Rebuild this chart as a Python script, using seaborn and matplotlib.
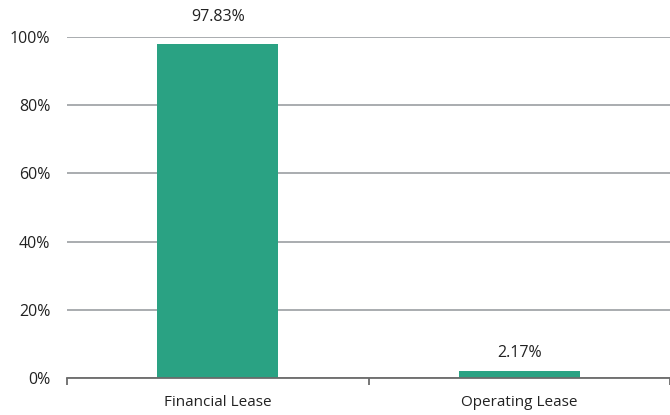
import matplotlib
matplotlib.use("Agg")
import matplotlib.pyplot as plt
import seaborn as sns
import pandas as pd

categories = ["Financial Lease", "Operating Lease"]
shares = [97.83, 2.17]
y_ticks = [0, 20, 40, 60, 80, 100]
y_labels = ["0%", "20%", "40%", "60%", "80%", "100%"]

sns.set_theme(style="white")
plt.rcParams["font.family"] = ["Open Sans", "DejaVu Sans"]

df = pd.DataFrame({"type": categories, "share": shares})

fig = plt.figure(figsize=(6.7, 4.15), dpi=100)
ax = fig.add_axes([0.1, 1 - 378 / 415, 0.9, (378 - 37) / 415])

sns.barplot(data=df, x="type", y="share", color="#2aa283", width=0.4,
            saturation=1, linewidth=0, ax=ax, zorder=3)

ax.set_ylim(0, 100)
ax.set_xlim(-0.5, 1.49)
ax.set_yticks(y_ticks)
ax.set_yticklabels(y_labels)
ax.grid(axis="y", color="#a3a6a9", linewidth=1.3, zorder=0)
ax.set_axisbelow(True)
ax.set_xlabel("")
ax.set_ylabel("")

for side in ["top", "right", "left"]:
    ax.spines[side].set_visible(False)
ax.spines["bottom"].set_color("#6b6b6b")
ax.spines["bottom"].set_linewidth(1.3)
ax.spines["bottom"].set_zorder(4)

ax.tick_params(axis="y", length=0, labelsize=11.5, labelcolor="#222222", pad=12)
ax.tick_params(axis="x", which="major", bottom=False, length=0, labelsize=11,
               labelcolor="#222222", pad=12)
ax.set_xticks([-0.5, 0.5, 1.5], minor=True)
ax.tick_params(axis="x", which="minor", bottom=True, length=5, width=1.3,
               color="#6b6b6b")

# value labels above each bar, offsets in points
label_offsets = [14, 7]
for i, v in enumerate(shares):
    ax.annotate(f"{v:.2f}%", xy=(i, v), xytext=(0, label_offsets[i]),
                textcoords="offset points", ha="center", va="bottom",
                fontsize=11.5, color="#222222", annotation_clip=False)

fig.savefig("out.png", dpi=100)
